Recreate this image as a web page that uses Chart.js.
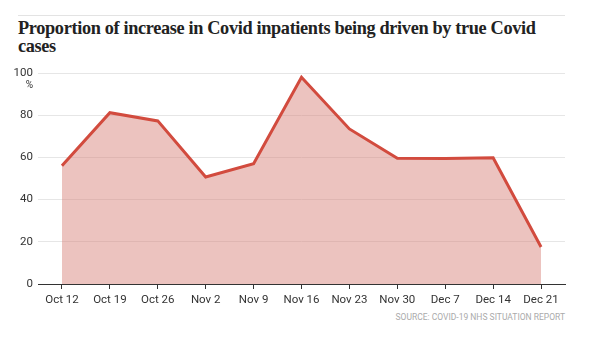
<!DOCTYPE html>
<html>
<head>
<meta charset="utf-8">
<script src="https://cdn.jsdelivr.net/npm/chart.js@4"></script>
<style>
  html, body { margin: 0; padding: 0; background: #fff; }
  body { width: 600px; height: 337px; position: relative; overflow: hidden; }
  #rule { position: absolute; left: 18px; top: 15px; width: 547px; height: 1px; background: #e3e3e3; }
  #title { position: absolute; left: 18px; top: 19px; width: 560px; font-family: "Liberation Serif", "DejaVu Serif", serif; font-weight: bold; font-size: 18.3px; line-height: 18px; color: #222; letter-spacing: -0.35px; }
  #wrap { position: absolute; left: 0; top: 60px; width: 600px; height: 250px; }
  #source { position: absolute; right: 35px; top: 312px; font-family: "Liberation Sans Narrow", "Roboto", sans-serif; font-size: 8.5px; color: #aaa; }
</style>
</head>
<body>
<div id="rule"></div>
<div id="title">Proportion of increase in Covid inpatients being driven by true Covid<br>cases</div>
<div id="wrap"><canvas id="c" width="600" height="250"></canvas></div>
<div id="source">SOURCE: COVID-19 NHS SITUATION REPORT</div>
<script>
const categories = ["Oct 12", "Oct 19", "Oct 26", "Nov 2", "Nov 9", "Nov 16", "Nov 23", "Nov 30", "Dec 7", "Dec 14", "Dec 21"];
const trueCovidShare = [56, 81.2, 77.3, 50.7, 57, 98, 73.5, 59.6, 59.5, 59.8, 17.5];
const yTicks = [0, 20, 40, 60, 80, 100];
const yUnit = "%";

const tickFont = { family: "'Liberation Sans Narrow', Roboto, sans-serif", size: 11.5 };

const unitPlugin = {
  id: 'unitLabel',
  afterDraw(chart) {
    const y = chart.scales.y;
    const ctx = chart.ctx;
    ctx.save();
    ctx.font = "10px 'Liberation Sans Narrow', Roboto, sans-serif";
    ctx.fillStyle = '#333';
    ctx.textAlign = 'right';
    ctx.textBaseline = 'middle';
    ctx.fillText(yUnit, y.right - 5, y.getPixelForValue(100) + 12);
    ctx.restore();
  }
};

new Chart(document.getElementById('c'), {
  type: 'line',
  data: {
    labels: categories,
    datasets: [{
      data: trueCovidShare,
      borderColor: '#d24b3e',
      backgroundColor: 'rgba(215, 130, 122, 0.48)',
      borderWidth: 3,
      fill: 'origin',
      pointRadius: 0,
      tension: 0
    }]
  },
  options: {
    responsive: false,
    animation: false,
    layout: { padding: { top: 13, right: 35, left: 0, bottom: 0 } },
    plugins: { legend: { display: false }, tooltip: { enabled: false } },
    scales: {
      x: {
        offset: true,
        grid: { display: true, offset: false, drawOnChartArea: false, drawTicks: true, tickLength: 5, color: '#333' },
        border: { display: true, color: '#333', width: 1 },
        ticks: { color: '#333', font: tickFont, padding: 4, maxRotation: 0, autoSkip: false },
        afterFit(s) { s.height = 26; }
      },
      y: {
        min: 0, max: 100,
        afterBuildTicks(s) { s.ticks = yTicks.map(v => ({ value: v })); },
        grid: { color: '#e6e6e6', drawTicks: false, lineWidth: 1 },
        border: { display: false },
        ticks: { color: '#333', font: tickFont, padding: 5 },
        afterFit(s) { s.width = 38; }
      }
    }
  },
  plugins: [unitPlugin]
});
</script>
</body>
</html>
